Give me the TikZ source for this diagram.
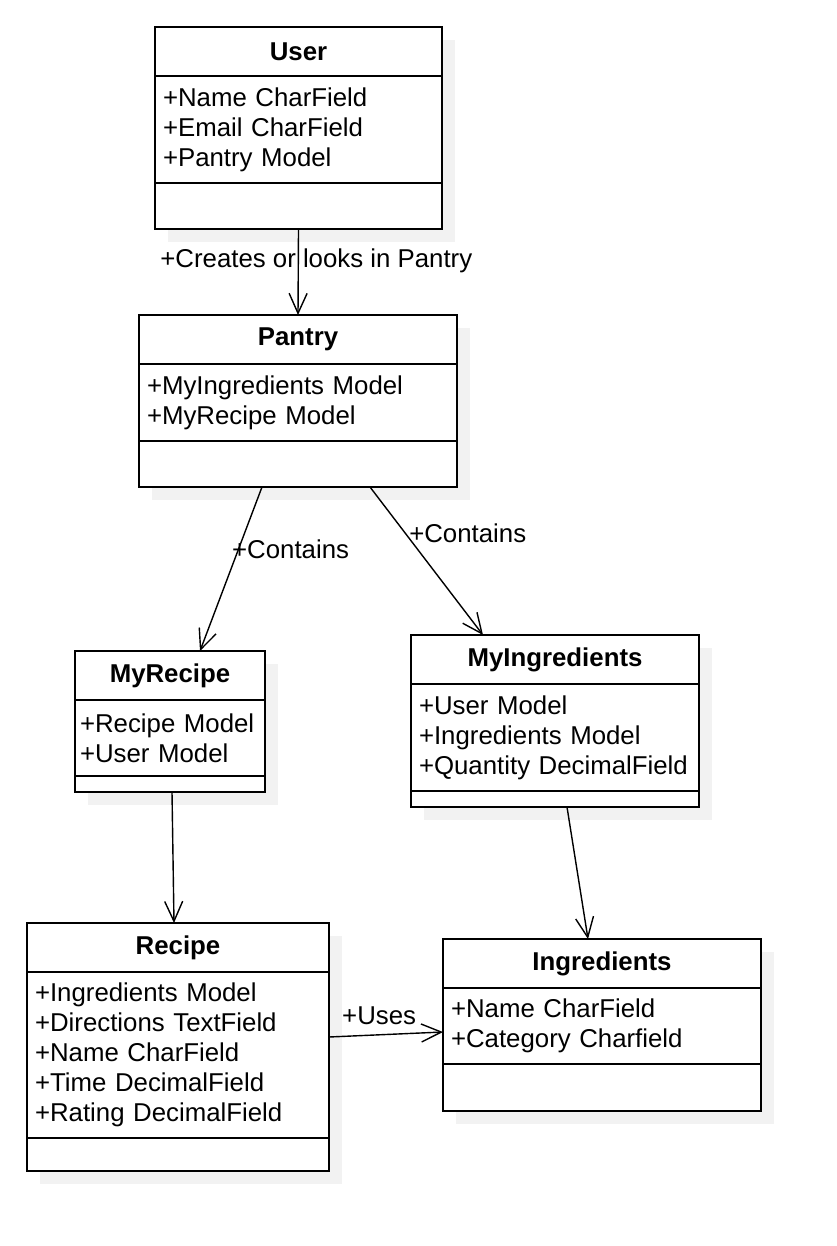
\documentclass[tikz,border=0pt]{standalone}
\usepackage{fontspec}
\setmainfont{Liberation Sans}
\usepackage{tikz}
\usetikzlibrary{arrows.meta, positioning, shadows}

\begin{document}
\begin{tikzpicture}[
  x=1pt, y=-1pt,
  every node/.style={font=\fontsize{25.8}{30}\selectfont},
  classhead/.style={rectangle, draw, line width=2pt, fill=white, outer sep=0pt,
    inner sep=0pt, minimum height=49pt, font=\fontsize{25.8}{30}\selectfont\bfseries,
    general shadow={fill=black!5, shadow xshift=13pt, shadow yshift=-13pt}},
  classattr/.style={classhead, font=\fontsize{25.8}{30}\selectfont,
    align=left, inner xsep=8pt},
  classops/.style={classhead},
  arrow/.style={-{Straight Barb[length=20pt, width=18pt]}, line width=1.4pt},
  lbl/.style={inner sep=1pt}
]
  \useasboundingbox (0,0) rectangle (836,1246);

  % classes
  \node[classhead, minimum width=287pt, anchor=north west] (user) at (155,27) {User};
  \node[classattr, minimum width=287pt, text width=271pt, minimum height=107pt, below=0pt of user] (userattr)
    {+Name CharField\\+Email CharField\\+Pantry Model};
  \node[classops, minimum width=287pt, minimum height=46pt, below=0pt of userattr] (userops) {};

  \node[classhead, minimum width=318pt, anchor=north west] (pantry) at (139,315) {Pantry};
  \node[classattr, minimum width=318pt, text width=302pt, minimum height=77pt, below=0pt of pantry] (pantryattr)
    {+MyIngredients Model\\+MyRecipe Model};
  \node[classops, minimum width=318pt, minimum height=46pt, below=0pt of pantryattr] (pantryops) {};

  \node[classhead, minimum width=190pt, anchor=north west] (myrecipe) at (75,651) {MyRecipe};
  \node[classattr, minimum width=190pt, inner xsep=5pt, text width=180pt, minimum height=76pt, below=0pt of myrecipe] (myrecipeattr)
    {+Recipe Model\\+User Model};
  \node[classops, minimum width=190pt, minimum height=16pt, below=0pt of myrecipeattr] (myrecipeops) {};

  \node[classhead, minimum width=288pt, anchor=north west] (myingr) at (411,635) {MyIngredients};
  \node[classattr, minimum width=288pt, text width=272pt, minimum height=107pt, below=0pt of myingr] (myingrattr)
    {+User Model\\+Ingredients Model\\+Quantity DecimalField};
  \node[classops, minimum width=288pt, minimum height=16pt, below=0pt of myingrattr] (myingrops) {};

  \node[classhead, minimum width=302pt, anchor=north west] (recipe) at (27,923) {Recipe};
  \node[classattr, minimum width=302pt, text width=286pt, minimum height=166pt, below=0pt of recipe] (recipeattr)
    {+Ingredients Model\\+Directions TextField\\+Name CharField\\+Time DecimalField\\+Rating DecimalField};
  \node[classops, minimum width=302pt, minimum height=33pt, below=0pt of recipeattr] (recipeops) {};

  \node[classhead, minimum width=318pt, anchor=north west] (ingr) at (443,939) {Ingredients};
  \node[classattr, minimum width=318pt, text width=302pt, minimum height=76pt, below=0pt of ingr] (ingrattr)
    {+Name CharField\\+Category Charfield};
  \node[classops, minimum width=318pt, minimum height=47pt, below=0pt of ingrattr] (ingrops) {};

  % associations
  \draw[arrow] (userops.south) -- node[lbl, pos=0.37, xshift=18pt] {+Creates or looks in Pantry} (pantry.north);
  \draw[arrow] ([xshift=-36pt]pantryops.south) -- node[lbl, pos=0.38, anchor=west, xshift=-8pt] {+Contains} ([xshift=30pt]myrecipe.north);
  \draw[arrow] ([xshift=72pt]pantryops.south) -- node[lbl, pos=0.315, anchor=west, xshift=2pt] {+Contains} ([xshift=-72pt]myingr.north);
  \draw[arrow] ([xshift=2pt]myrecipeops.south) -- ([xshift=-4pt]recipe.north);
  \draw[arrow] ([xshift=12pt]myingrops.south) -- ([xshift=-14pt]ingr.north);
  \draw[arrow] ([yshift=18pt]recipeattr.east) -- node[lbl, pos=0.44, above=8pt] {+Uses} ([yshift=-6pt]ingrattr.west);
\end{tikzpicture}
\end{document}
